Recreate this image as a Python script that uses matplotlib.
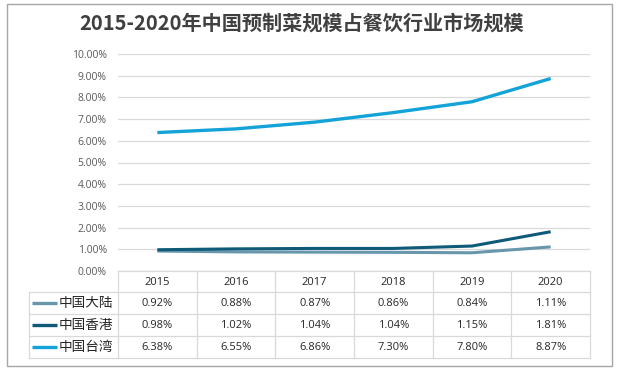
import matplotlib.pyplot as plt
from matplotlib.ticker import FuncFormatter

plt.rcParams['font.family'] = ['Open Sans', 'Noto Sans CJK SC', 'DejaVu Sans']

years = ["2015", "2016", "2017", "2018", "2019", "2020"]
mainland = [0.92, 0.88, 0.87, 0.86, 0.84, 1.11]
hongkong = [0.98, 1.02, 1.04, 1.04, 1.15, 1.81]
taiwan = [6.38, 6.55, 6.86, 7.30, 7.80, 8.87]
names = ["中国大陆", "中国香港", "中国台湾"]
colors = ["#6896aa", "#0e5a78", "#14a3d8"]
widths = [2.2, 2.2, 2.4]
series = [mainland, hongkong, taiwan]

W, H = 619, 371
fig = plt.figure(figsize=(W / 100, H / 100), dpi=100)

def fx(px):
    return px / W

def fy(py):
    return 1 - py / H

# outer frame
fig.patches.append(plt.Rectangle((fx(6.5), fy(365.5)), fx(605), 362 / H,
                                 transform=fig.transFigure, fill=False,
                                 edgecolor="#a6a6a6", linewidth=1))

fig.text(fx(302), fy(23), "2015-2020年中国预制菜规模占餐饮行业市场规模",
         ha="center", va="center", fontsize=14.5, fontweight="bold",
         color="#404040", family=["Noto Sans CJK SC", "DejaVu Sans"])

# line chart
x_left, x_right = 118, 590
y_top, y_zero = 54, 271
ax = fig.add_axes([fx(x_left), fy(y_zero), (x_right - x_left) / W, (y_zero - y_top) / H])
pos = [i + 0.5 for i in range(len(years))]
for vals, c, lw in zip(series, colors, widths):
    ax.plot(pos, vals, color=c, linewidth=lw, solid_capstyle="butt", zorder=3)
ax.set_xlim(0, len(years))
ax.set_ylim(0, 10)
ax.set_yticks(range(0, 11))
ax.yaxis.set_major_formatter(FuncFormatter(lambda v, p: f"{v:.2f}%"))
ax.grid(axis="y", color="#d9d9d9", linewidth=0.9)
ax.set_axisbelow(True)
ax.set_xticks([])
ax.tick_params(axis="y", length=0, pad=8, labelsize=7.5, labelcolor="#595959")
for s in ax.spines.values():
    s.set_visible(False)

# data table
t_left, t_bottom = 29, 358
tax = fig.add_axes([fx(t_left), fy(t_bottom), (x_right - t_left) / W, (t_bottom - y_zero) / H])
col_w = (x_right - x_left) / len(years)
lab_w = (x_left - t_left) / col_w
tax.set_xlim(-lab_w, len(years))
tax.set_ylim(t_bottom, y_zero)
tax.axis("off")
row_edges = [271, 292, 314, 336, 358]
lc = "#d9d9d9"
tax.plot([0, len(years)], [row_edges[0]] * 2, color=lc, lw=0.9, clip_on=False)
for yy in row_edges[1:]:
    tax.plot([-lab_w, len(years)], [yy, yy], color=lc, lw=0.9, clip_on=False)
for i in range(len(years) + 1):
    tax.plot([i, i], [row_edges[0], row_edges[-1]], color=lc, lw=0.9, clip_on=False)
tax.plot([-lab_w, -lab_w], [row_edges[1], row_edges[-1]], color=lc, lw=0.9, clip_on=False)

hy = (row_edges[0] + row_edges[1]) / 2
for i, yr in enumerate(years):
    tax.text(i + 0.5, hy + 1, yr, ha="center", va="center", fontsize=8, color="#262626")
for r, (nm, vals, c) in enumerate(zip(names, series, colors)):
    cy = (row_edges[r + 1] + row_edges[r + 2]) / 2
    tax.plot([-lab_w + 0.04, -lab_w + 0.36], [cy, cy], color=c, lw=2.4, solid_capstyle="butt")
    tax.text(-lab_w + 0.38, cy, nm, ha="left", va="center", fontsize=9.8, color="#262626",
             family=["Noto Sans CJK SC", "DejaVu Sans"])
    for i, v in enumerate(vals):
        tax.text(i + 0.5, cy, f"{v:.2f}%", ha="center", va="center", fontsize=8, color="#262626")

fig.savefig("out.png", dpi=100)
